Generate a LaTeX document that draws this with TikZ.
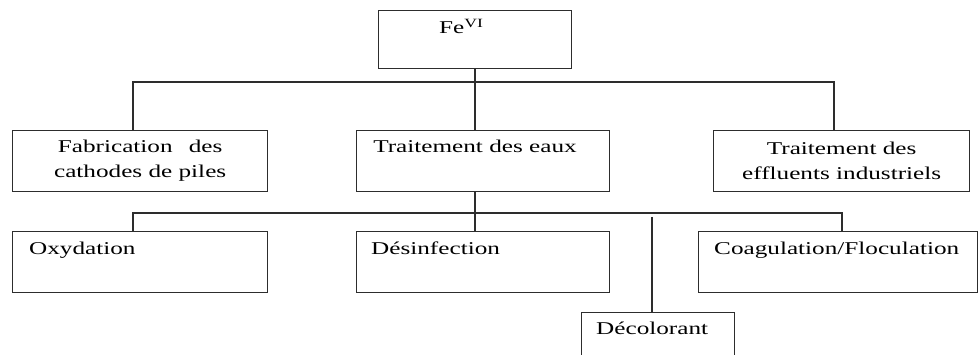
\documentclass[tikz,border=0pt]{standalone}
\usepackage{fontspec}
\setmainfont{Liberation Serif}[FakeStretch=1.4]
\definecolor{linec}{RGB}{45,45,45}
\begin{document}
\begin{tikzpicture}[x=1pt,y=-1pt,
  box/.style={draw=linec, line width=1.3pt, rectangle, inner sep=0pt, anchor=north west},
  lbl/.style={inner sep=0pt, font=\fontsize{18}{25}\selectfont, text=black},
  conn/.style={draw=linec, line width=1.3pt}]
\useasboundingbox (0,0) rectangle (978,355);
\fill[white] (0,0) rectangle (978,355);
% boxes
\node[box, minimum width=193pt, minimum height=58pt] (fe) at (378,10) {};
\node[box, minimum width=255pt, minimum height=61pt] (fab) at (12,130) {};
\node[box, minimum width=253pt, minimum height=61pt] (te) at (356,130) {};
\node[box, minimum width=256pt, minimum height=61pt] (eff) at (713,130) {};
\node[box, minimum width=255pt, minimum height=61pt] (ox) at (12,231) {};
\node[box, minimum width=253pt, minimum height=61pt] (des) at (356,231) {};
\node[box, minimum width=278.5pt, minimum height=61pt] (coag) at (698,231) {};
\node[box, minimum width=153pt, minimum height=60pt] (dec) at (581,312) {};
% texts
\node[lbl, anchor=base west] (fet) at (439,34) {Fe\textsuperscript{VI}};
\node[lbl, align=center] (fabt) at (fab.center) {Fabrication\hspace{0.9em}des\\cathodes de piles};
\node[lbl, anchor=base] (tet) at (475,153) {Traitement des eaux};
\node[lbl, align=center] (efft) at (eff.center) {Traitement des\\effluents industriels};
\node[lbl, anchor=base west] (oxt) at (29,255) {Oxydation};
\node[lbl, anchor=base west] (dest) at (371,255) {Désinfection};
\node[lbl, anchor=base west] (coagt) at (714,255) {Coagulation/Floculation};
\node[lbl, anchor=base west] (dect) at (596,335) {Décolorant};
% junctions
\coordinate (trunk) at (475,82);
\coordinate (h1l) at (133,82);
\coordinate (h1r) at (834,82);
\coordinate (h2l) at (133,213);
\coordinate (h2m) at (475,213);
\coordinate (h2r) at (842,213);
\coordinate (dtop) at (652,217);
% connectors
\draw[conn] (fe.south -| trunk) -- (te.north -| trunk);
\draw[conn] (fab.north -| h1l) -- (h1l) -- (h1r) -- (eff.north -| h1r);
\draw[conn] (te.south -| h2m) -- (des.north -| h2m);
\draw[conn] (ox.north -| h2l) -- (h2l) -- (h2r) -- (coag.north -| h2r);
\draw[conn] (dtop) -- (dec.north -| dtop);
\end{tikzpicture}
\end{document}
